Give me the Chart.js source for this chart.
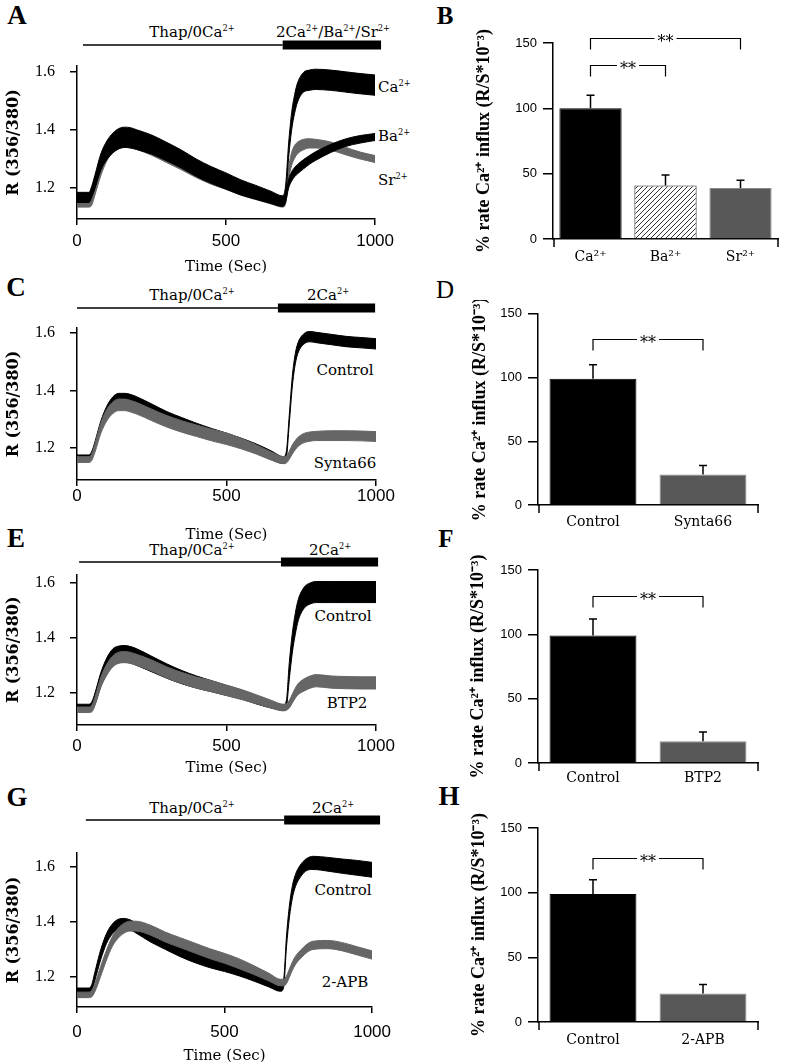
<!DOCTYPE html>
<html lang="en">
<head>
<meta charset="UTF-8">
<script src="https://cdn.jsdelivr.net/npm/chart.js"></script>
<title>Ca influx traces</title>
<style>
  html, body { margin: 0; padding: 0; background: #fff; overflow: hidden; }
  body { width: 786px; height: 1062px; position: relative; font-family: "DejaVu Serif", serif; color: #000; }
  canvas { position: absolute; }
  .t { position: absolute; white-space: nowrap; line-height: 1; transform: translate(-50%, -50%); }
  .l { transform: translate(0, -50%); }
  .pl { font-family: "Liberation Serif", serif; font-weight: bold; font-size: 27px; }
  .hd { font-size: 15px; }
  .tr { font-size: 15px; }
  sup { font-size: 55%; vertical-align: 0.7em; line-height: 0; }
</style>
</head>
<body>

<div class="t pl" style="left:17px; top:15px">A</div>
<div class="t pl" style="left:445px; top:15px; font-size:25px">B</div>
<div class="t pl" style="left:16px; top:287px">C</div>
<div class="t pl" style="left:445px; top:289px; font-weight:normal; font-size:25px">D</div>
<div class="t pl" style="left:16px; top:538px">E</div>
<div class="t pl" style="left:446px; top:538px; font-size:25px">F</div>
<div class="t pl" style="left:17px; top:797px">G</div>
<div class="t pl" style="left:449px; top:796px">H</div>

<div class="t hd" style="left:192px; top:32px">Thap/0Ca<sup>2+</sup></div>
<div class="t hd" style="left:333px; top:32px">2Ca<sup>2+</sup>/Ba<sup>2+</sup>/Sr<sup>2+</sup></div>
<div class="t hd" style="left:192px; top:295px">Thap/0Ca<sup>2+</sup></div>
<div class="t hd" style="left:328px; top:295px">2Ca<sup>2+</sup></div>
<div class="t hd" style="left:192px; top:550px">Thap/0Ca<sup>2+</sup></div>
<div class="t hd" style="left:330px; top:550px">2Ca<sup>2+</sup></div>
<div class="t hd" style="left:192px; top:808px">Thap/0Ca<sup>2+</sup></div>
<div class="t hd" style="left:333px; top:808px">2Ca<sup>2+</sup></div>

<div class="t tr l" style="left:378px; top:87px">Ca<sup>2+</sup></div>
<div class="t tr l" style="left:378px; top:136px">Ba<sup>2+</sup></div>
<div class="t tr l" style="left:378px; top:180px">Sr<sup>2+</sup></div>
<div class="t tr" style="left:345px; top:370px">Control</div>
<div class="t tr" style="left:345px; top:463px">Synta66</div>
<div class="t tr" style="left:343px; top:616px">Control</div>
<div class="t tr" style="left:347px; top:703px">BTP2</div>
<div class="t tr" style="left:343px; top:890px">Control</div>
<div class="t tr" style="left:345px; top:982px">2-APB</div>

<canvas id="cA" width="400" height="249" style="left:0; top:28px"></canvas>
<canvas id="cB" width="312" height="255" style="left:474px; top:20px"></canvas>
<canvas id="cC" width="400" height="247" style="left:0; top:298px"></canvas>
<canvas id="cD" width="316" height="235" style="left:470px; top:300px"></canvas>
<canvas id="cE" width="400" height="228" style="left:0; top:550px"></canvas>
<canvas id="cF" width="318" height="235" style="left:468px; top:555px"></canvas>
<canvas id="cG" width="400" height="258" style="left:0; top:808px"></canvas>
<canvas id="cH" width="317" height="250" style="left:469px; top:812px"></canvas>

<script>
// ---- data ----
const time = [0, 40, 50, 60, 80, 100, 120, 140, 160, 180, 200, 250, 300, 350, 400, 450, 500, 550, 600, 650, 690,
              700, 710, 720, 730, 740, 760, 780, 800, 850, 900, 950, 1000];
const xTicksTrace = [0, 500, 1000];
const yTicksTrace = [1.2, 1.4, 1.6];
const yTicksBar = [0, 50, 100, 150];

// A: Ca / Ba / Sr
const caMeanA = [1.169, 1.169, 1.19, 1.222, 1.29, 1.33, 1.355, 1.37, 1.375, 1.373, 1.367, 1.35, 1.326, 1.30, 1.27, 1.245, 1.224, 1.202, 1.185, 1.168, 1.155,
                 1.19, 1.33, 1.43, 1.49, 1.53, 1.565, 1.572, 1.575, 1.572, 1.566, 1.56, 1.555];
const caSemA = [0.016, 0.016, 0.018, 0.022, 0.028, 0.032, 0.034, 0.035, 0.035, 0.035, 0.034, 0.033, 0.032, 0.031, 0.03, 0.029, 0.028, 0.026, 0.024, 0.021, 0.018,
                0.02, 0.025, 0.03, 0.032, 0.033, 0.034, 0.035, 0.035, 0.035, 0.035, 0.035, 0.035];
const baMeanA = [1.165, 1.165, 1.185, 1.218, 1.285, 1.325, 1.35, 1.365, 1.37, 1.368, 1.362, 1.345, 1.321, 1.295, 1.265, 1.24, 1.22, 1.198, 1.18, 1.164, 1.152,
                 1.165, 1.215, 1.24, 1.255, 1.265, 1.282, 1.297, 1.31, 1.336, 1.356, 1.368, 1.376];
const baSemA = [0.015, 0.015, 0.015, 0.018, 0.02, 0.022, 0.022, 0.022, 0.022, 0.022, 0.022, 0.022, 0.022, 0.022, 0.022, 0.02, 0.02, 0.018, 0.017, 0.016, 0.015,
                0.012, 0.015, 0.016, 0.016, 0.016, 0.016, 0.015, 0.015, 0.014, 0.013, 0.013, 0.012];
const srMeanA = [1.15, 1.15, 1.16, 1.195, 1.265, 1.315, 1.345, 1.36, 1.363, 1.36, 1.355, 1.335, 1.31, 1.285, 1.258, 1.235, 1.215, 1.195, 1.178, 1.162, 1.15,
                 1.16, 1.25, 1.3, 1.325, 1.338, 1.35, 1.354, 1.353, 1.345, 1.328, 1.312, 1.3];
const srSemA = [0.016, 0.016, 0.018, 0.02, 0.022, 0.022, 0.022, 0.022, 0.022, 0.022, 0.022, 0.022, 0.022, 0.022, 0.022, 0.022, 0.02, 0.02, 0.018, 0.017, 0.016,
                0.015, 0.02, 0.022, 0.022, 0.02, 0.018, 0.016, 0.015, 0.014, 0.013, 0.012, 0.012];

// C: Control / Synta66
const ctrlMeanC = [1.168, 1.168, 1.18, 1.21, 1.28, 1.33, 1.36, 1.372, 1.372, 1.368, 1.36, 1.335, 1.31, 1.29, 1.27, 1.252, 1.236, 1.218, 1.198, 1.175, 1.158,
                   1.175, 1.3, 1.43, 1.51, 1.55, 1.58, 1.587, 1.584, 1.577, 1.57, 1.566, 1.562];
const ctrlSemC = [0.008, 0.008, 0.01, 0.012, 0.015, 0.016, 0.018, 0.018, 0.018, 0.018, 0.018, 0.018, 0.017, 0.016, 0.016, 0.016, 0.016, 0.016, 0.016, 0.015, 0.012,
                  0.012, 0.015, 0.018, 0.018, 0.018, 0.018, 0.018, 0.018, 0.018, 0.018, 0.018, 0.018];
const syntaMeanC = [1.16, 1.16, 1.17, 1.2, 1.27, 1.315, 1.34, 1.35, 1.35, 1.345, 1.338, 1.315, 1.293, 1.275, 1.26, 1.245, 1.232, 1.215, 1.195, 1.172, 1.158,
                    1.16, 1.175, 1.195, 1.21, 1.222, 1.235, 1.24, 1.242, 1.243, 1.243, 1.242, 1.24];
const syntaSemC = [0.01, 0.01, 0.012, 0.015, 0.018, 0.02, 0.02, 0.02, 0.02, 0.02, 0.02, 0.02, 0.02, 0.02, 0.02, 0.02, 0.02, 0.018, 0.016, 0.014, 0.012,
                   0.012, 0.014, 0.016, 0.016, 0.016, 0.016, 0.016, 0.016, 0.017, 0.017, 0.017, 0.017];

// E: Control / BTP2
const ctrlMeanE = [1.148, 1.148, 1.155, 1.18, 1.25, 1.3, 1.33, 1.34, 1.342, 1.338, 1.33, 1.305, 1.28, 1.258, 1.24, 1.225, 1.21, 1.195, 1.175, 1.158, 1.148,
                   1.16, 1.28, 1.38, 1.45, 1.5, 1.545, 1.56, 1.565, 1.565, 1.565, 1.565, 1.565];
const ctrlSemE = [0.012, 0.012, 0.015, 0.02, 0.025, 0.028, 0.03, 0.03, 0.03, 0.03, 0.03, 0.028, 0.026, 0.024, 0.022, 0.02, 0.018, 0.016, 0.014, 0.012, 0.01,
                  0.012, 0.03, 0.035, 0.038, 0.038, 0.038, 0.038, 0.038, 0.038, 0.038, 0.038, 0.038];
const btpMeanE = [1.14, 1.14, 1.145, 1.17, 1.24, 1.285, 1.315, 1.328, 1.33, 1.327, 1.32, 1.3, 1.275, 1.255, 1.238, 1.225, 1.21, 1.195, 1.178, 1.16, 1.148,
                  1.15, 1.16, 1.18, 1.2, 1.215, 1.23, 1.24, 1.245, 1.24, 1.238, 1.237, 1.237];
const btpSemE = [0.01, 0.01, 0.012, 0.015, 0.018, 0.02, 0.02, 0.02, 0.02, 0.02, 0.02, 0.02, 0.02, 0.02, 0.02, 0.02, 0.019, 0.018, 0.016, 0.014, 0.012,
                 0.012, 0.014, 0.016, 0.018, 0.02, 0.022, 0.022, 0.022, 0.022, 0.022, 0.022, 0.022];

// G: Control / 2-APB
const ctrlMeanG = [1.15, 1.15, 1.16, 1.2, 1.28, 1.34, 1.375, 1.392, 1.395, 1.39, 1.378, 1.345, 1.318, 1.292, 1.27, 1.252, 1.237, 1.22, 1.2, 1.178, 1.16,
                   1.175, 1.33, 1.44, 1.51, 1.55, 1.59, 1.61, 1.615, 1.61, 1.603, 1.597, 1.59];
const ctrlSemG = [0.01, 0.01, 0.012, 0.015, 0.018, 0.018, 0.018, 0.018, 0.018, 0.018, 0.018, 0.018, 0.018, 0.018, 0.018, 0.018, 0.017, 0.016, 0.015, 0.014, 0.012,
                  0.014, 0.02, 0.022, 0.022, 0.022, 0.022, 0.022, 0.024, 0.025, 0.026, 0.027, 0.027];
const apbMeanG = [1.135, 1.135, 1.14, 1.16, 1.22, 1.28, 1.33, 1.36, 1.378, 1.385, 1.385, 1.37, 1.345, 1.325, 1.305, 1.285, 1.268, 1.248, 1.225, 1.2, 1.18,
                  1.18, 1.19, 1.215, 1.24, 1.26, 1.285, 1.305, 1.315, 1.318, 1.31, 1.295, 1.28];
const apbSemG = [0.01, 0.01, 0.012, 0.015, 0.018, 0.018, 0.018, 0.018, 0.018, 0.018, 0.018, 0.018, 0.018, 0.018, 0.018, 0.018, 0.018, 0.018, 0.016, 0.014, 0.012,
                 0.012, 0.014, 0.015, 0.015, 0.015, 0.015, 0.015, 0.015, 0.015, 0.015, 0.015, 0.015];

// protocol bars: [start of Thap/0Ca, switch to 2Ca, end] in seconds
const protoA = [20, 690, 1020];
const protoC = [0, 672, 997];
const protoE = [7, 682, 1007];
const protoG = [30, 702, 1027];

// bar panels (% rate of Ca2+ influx)
const catsB = ['Ca²⁺', 'Ba²⁺', 'Sr²⁺'];
const rateB = [100, 41, 39];
const semB = [10, 8, 6];
const sigPairsB = [[0, 2], [0, 1]];
const sigLevelB = [154, 133];

const catsD = ['Control', 'Synta66'];
const rateD = [99, 24];
const semD = [11, 7];
const sigPairsD = [[0, 1]];
const sigLevelD = [130];

const catsF = ['Control', 'BTP2'];
const rateF = [99, 17];
const semF = [13, 7];
const sigPairsF = [[0, 1]];
const sigLevelF = [130];

const catsH = ['Control', '2-APB'];
const rateH = [99, 22];
const semH = [11, 7];
const sigPairsH = [[0, 1]];
const sigLevelH = [127];

// ---- drawing ----
Chart.defaults.color = '#000';
const BLACK = '#000';
const GRAY = '#666';

function band(mean, sem, color) {
  const up = mean.map((m, i) => ({x: time[i], y: m + sem[i]}));
  const lo = mean.map((m, i) => ({x: time[i], y: m - sem[i]}));
  const common = {borderColor: color, borderWidth: 1, pointRadius: 0, cubicInterpolationMode: 'monotone'};
  return [
    Object.assign({data: up, fill: false}, common),
    Object.assign({data: lo, fill: '-1', backgroundColor: color}, common)
  ];
}

function protocolPlugin(proto, barY) {
  return {
    id: 'protocol',
    afterDraw(chart) {
      const {ctx, scales: {x}} = chart;
      const a = x.getPixelForValue(proto[0]);
      const b = x.getPixelForValue(proto[1]);
      const c = x.getPixelForValue(proto[2]);
      ctx.save();
      ctx.fillStyle = '#000';
      ctx.fillRect(a, barY - 0.75, b - a, 1.5);
      ctx.fillRect(b, barY - 4.5, c - b, 9);
      ctx.restore();
    }
  };
}

// layer order: first pair of datasets is drawn on top
function traceChart(id, layers, yMin, yMax, proto, L) {
  const el = document.getElementById(id);
  let sets = [];
  layers.forEach(s => { sets = sets.concat(band(s[0], s[1], s[2])); });
  new Chart(el, {
    type: 'line',
    data: {datasets: sets},
    plugins: [protocolPlugin(proto, L.barY)],
    options: {
      responsive: false, animation: false,
      layout: {padding: {left: 0, right: el.width - 376, top: L.areaTop, bottom: 0}},
      plugins: {legend: {display: false}, tooltip: {enabled: false}},
      scales: {
        x: {
          type: 'linear', min: 0, max: 1000,
          afterBuildTicks: s => { s.ticks = xTicksTrace.map(v => ({value: v})); },
          afterFit: s => { s.height = L.axisH; },
          grid: {drawOnChartArea: false, tickLength: 6, color: '#000', lineWidth: 1.5},
          border: {color: '#000', width: 1.5},
          ticks: {padding: L.tickPad, maxRotation: 0, callback: v => String(v),
                  font: {family: 'Liberation Sans', size: 17}},
          title: {display: true, text: 'Time (Sec)', padding: {top: 0, bottom: 1},
                  font: {family: 'DejaVu Serif', size: 15, lineHeight: 1.2}}
        },
        y: {
          min: yMin, max: yMax,
          afterBuildTicks: s => { s.ticks = yTicksTrace.map(v => ({value: v})); },
          afterFit: s => { s.width = 77; },
          grid: {drawOnChartArea: false, tickLength: 7, color: '#000', lineWidth: 1.5},
          border: {color: '#000', width: 1.5},
          ticks: {padding: 15, callback: v => v.toFixed(1), font: {family: 'Liberation Serif', size: 16}},
          title: {display: true, text: 'R (356/380)', padding: {top: 4, bottom: 0},
                  font: {family: 'DejaVu Serif', size: 16, weight: 'bold'}}
        }
      }
    }
  });
}

function hatchPattern() {
  const c = document.createElement('canvas');
  c.width = 5; c.height = 5;
  const g = c.getContext('2d');
  g.fillStyle = '#fff';
  g.fillRect(0, 0, 5, 5);
  g.strokeStyle = '#333';
  g.lineWidth = 1;
  g.beginPath();
  g.moveTo(-1, 6); g.lineTo(6, -1);
  g.moveTo(-1, 1); g.lineTo(1, -1);
  g.moveTo(4, 6); g.lineTo(6, 4);
  g.stroke();
  return g.createPattern(c, 'repeat');
}

function barExtras(rate, sem, pairs, levels) {
  return {
    id: 'barExtras',
    afterDatasetsDraw(chart) {
      const {ctx, chartArea, scales: {x, y}} = chart;
      const meta = chart.getDatasetMeta(0);
      ctx.save();
      ctx.strokeStyle = '#000';
      ctx.lineWidth = 1.5;
      // error bars (upward only)
      rate.forEach((r, i) => {
        const bx = meta.data[i].x;
        const top = y.getPixelForValue(r + sem[i]);
        ctx.beginPath();
        ctx.moveTo(bx, y.getPixelForValue(r));
        ctx.lineTo(bx, top);
        ctx.moveTo(bx - 4, top);
        ctx.lineTo(bx + 4, top);
        ctx.stroke();
      });
      // end ticks of the category axis
      ctx.beginPath();
      ctx.moveTo(chartArea.left + 1, chartArea.bottom);
      ctx.lineTo(chartArea.left + 1, chartArea.bottom + 8);
      ctx.moveTo(chartArea.right, chartArea.bottom);
      ctx.lineTo(chartArea.right, chartArea.bottom + 8);
      ctx.stroke();
      // significance brackets
      ctx.lineWidth = 1.2;
      ctx.font = '16px "DejaVu Serif"';
      ctx.textAlign = 'center';
      ctx.textBaseline = 'middle';
      pairs.forEach((p, k) => {
        const x1 = x.getPixelForValue(p[0]);
        const x2 = x.getPixelForValue(p[1]);
        const yy = Math.round(y.getPixelForValue(levels[k])) + 0.5;
        const mid = (x1 + x2) / 2;
        const tw = ctx.measureText('**').width + 6;
        ctx.beginPath();
        ctx.moveTo(x1, yy + 11); ctx.lineTo(x1, yy); ctx.lineTo(mid - tw / 2, yy);
        ctx.moveTo(mid + tw / 2, yy); ctx.lineTo(x2, yy); ctx.lineTo(x2, yy + 11);
        ctx.stroke();
        ctx.fillStyle = '#000';
        ctx.fillText('**', mid, yy + 4);
      });
      ctx.restore();
    }
  };
}

function barChart(id, cats, rate, sem, pairs, levels, colors, borders, L) {
  const el = document.getElementById(id);
  new Chart(el, {
    type: 'bar',
    data: {
      labels: cats,
      datasets: [{data: rate, backgroundColor: colors, borderColor: borders, borderWidth: 1,
                  barPercentage: L.barPct, categoryPercentage: 1}]
    },
    plugins: [barExtras(rate, sem, pairs, levels)],
    options: {
      responsive: false, animation: false,
      layout: {padding: {left: 0, right: el.width - L.areaRight, top: L.areaTop, bottom: 0}},
      plugins: {legend: {display: false}, tooltip: {enabled: false}},
      scales: {
        x: {
          afterFit: s => { s.height = L.axisH; },
          grid: {display: true, drawOnChartArea: false, drawTicks: false},
          border: {color: '#000', width: 1.5},
          ticks: {padding: L.tickPad, maxRotation: 0, autoSkip: false,
                  font: {family: 'DejaVu Serif', size: 14}}
        },
        y: {
          min: 0, max: 150,
          afterBuildTicks: s => { s.ticks = yTicksBar.map(v => ({value: v})); },
          afterFit: s => { s.width = L.areaLeft; },
          grid: {drawOnChartArea: false, tickLength: 10, color: '#000', lineWidth: 1.5},
          border: {color: '#000', width: 1.5},
          ticks: {padding: 6, callback: v => String(v), font: {family: 'Liberation Sans', size: 13}},
          title: {display: true, text: '% rate Ca²⁺ influx (R/S*10⁻³)', padding: 0,
                  font: {family: 'Liberation Serif', size: 18, weight: 'bold'}}
        }
      }
    }
  });
}

traceChart('cA', [[caMeanA, caSemA, BLACK], [baMeanA, baSemA, BLACK], [srMeanA, srSemA, GRAY]],
           1.093, 1.621, protoA, {barY: 17, areaTop: 38, axisH: 58, tickPad: 6});
traceChart('cC', [[syntaMeanC, syntaSemC, GRAY], [ctrlMeanC, ctrlSemC, BLACK]],
           1.089, 1.617, protoC, {barY: 10, areaTop: 30, axisH: 65, tickPad: 0});
traceChart('cE', [[btpMeanE, btpSemE, GRAY], [ctrlMeanE, ctrlSemE, BLACK]],
           1.085, 1.628, protoE, {barY: 12, areaTop: 19, axisH: 53, tickPad: 5});
traceChart('cG', [[apbMeanG, apbSemG, GRAY], [ctrlMeanG, ctrlSemG, BLACK]],
           1.091, 1.651, protoG, {barY: 12, areaTop: 45, axisH: 59, tickPad: 9});

const hatch = hatchPattern();
barChart('cB', catsB, rateB, semB, sigPairsB, sigLevelB,
         ['#000', hatch, '#585858'], ['#000', '#222', '#888'],
         {areaLeft: 79, areaRight: 304, areaTop: 23, axisH: 36, tickPad: 10, barPct: 0.83});
barChart('cD', catsD, rateD, semD, sigPairsD, sigLevelD, ['#000', '#585858'], ['#000', '#888'],
         {areaLeft: 68, areaRight: 288, areaTop: 13, axisH: 30, tickPad: 9, barPct: 0.79});
barChart('cF', catsF, rateF, semF, sigPairsF, sigLevelF, ['#000', '#585858'], ['#000', '#888'],
         {areaLeft: 70, areaRight: 290, areaTop: 15, axisH: 27, tickPad: 7, barPct: 0.79});
barChart('cH', catsH, rateH, semH, sigPairsH, sigLevelH, ['#000', '#585858'], ['#000', '#888'],
         {areaLeft: 69, areaRight: 289, areaTop: 16, axisH: 40, tickPad: 10, barPct: 0.79});
</script>
</body>
</html>
